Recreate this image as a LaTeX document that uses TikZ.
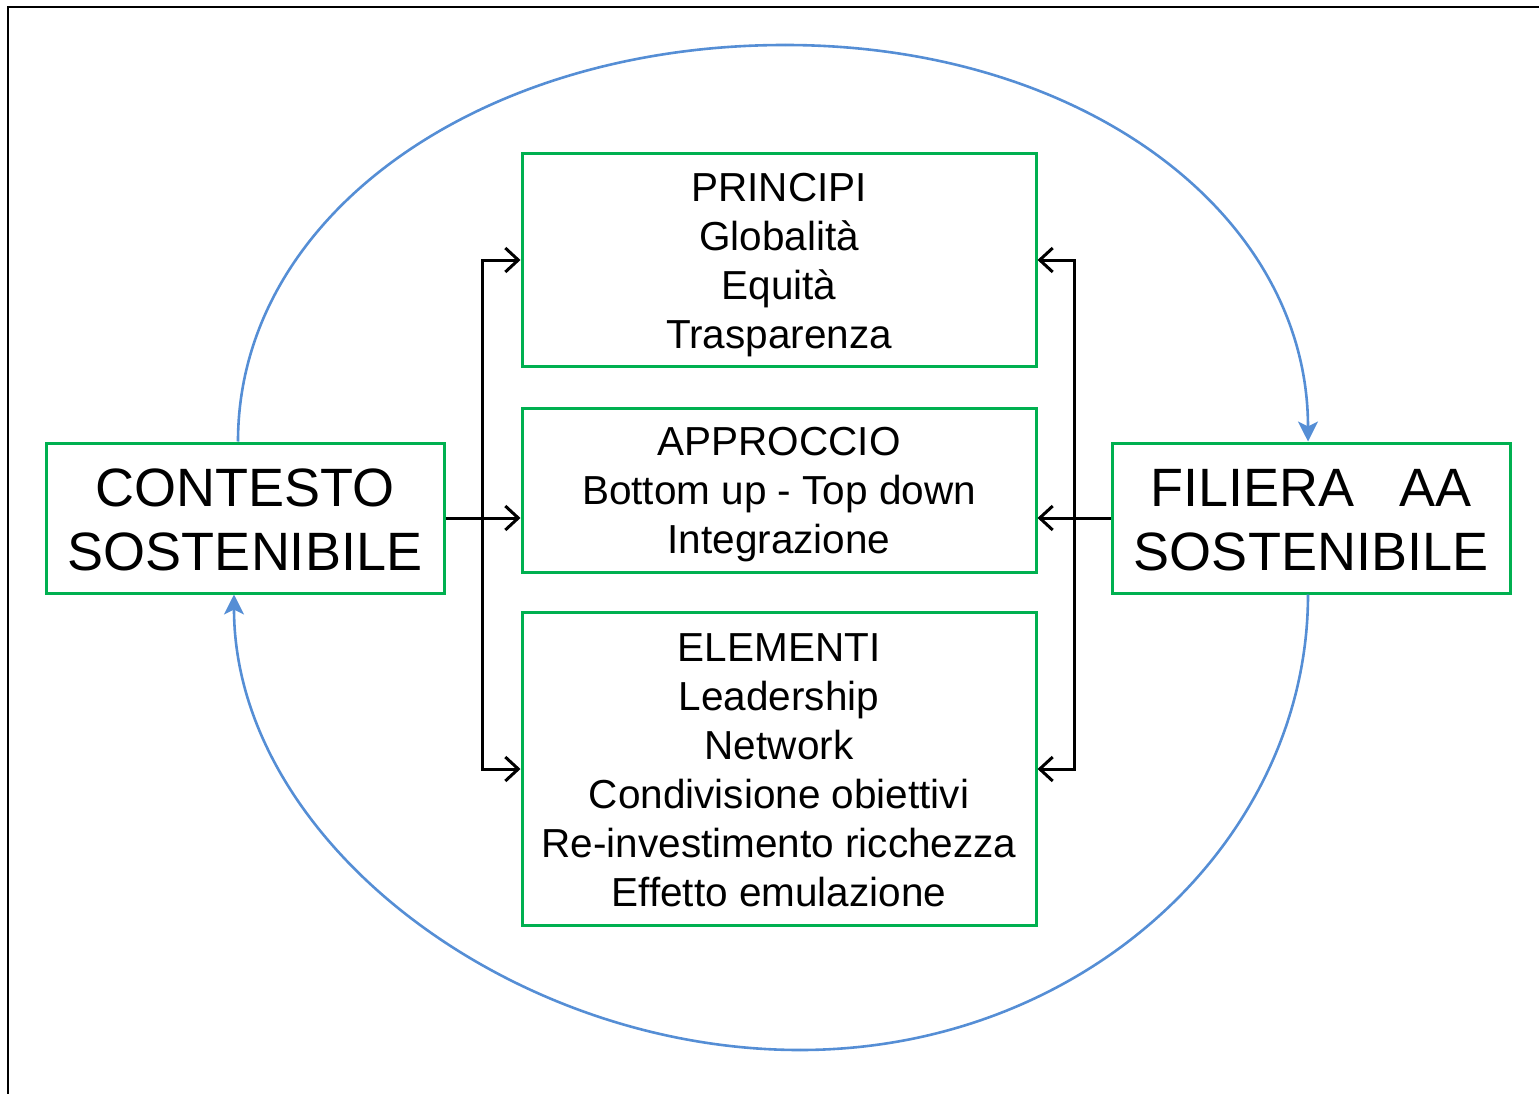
\documentclass[tikz,border=0pt]{standalone}
\usepackage{fontspec}
\setmainfont{Liberation Sans}
\usetikzlibrary{arrows.meta}
\definecolor{boxgreen}{RGB}{0,176,80}
\definecolor{arcblue}{RGB}{85,142,213}
\tikzset{
  gbox/.style={draw=boxgreen, line width=3pt, inner sep=0pt},
  txt/.style={align=center, inner sep=0pt, font=\fontsize{40.5pt}{49pt}\selectfont},
  bigtxt/.style={align=center, inner sep=0pt, font=\fontsize{54pt}{64pt}\selectfont},
  blk/.style={draw=black, line width=3pt, arrows={Straight Barb[length=13pt,width=24pt,line width=3pt]-Straight Barb[length=13pt,width=24pt,line width=3pt]}},
  blkone/.style={draw=black, line width=3pt, -{Straight Barb[length=13pt,width=24pt,line width=3pt]}},
  arc/.style={draw=arcblue, line width=2.6pt, -{Stealth[length=20pt,width=20pt,inset=5pt]}},
  frame/.style={draw=black, line width=2pt}
}
\begin{document}
\begin{tikzpicture}[x=1pt,y=-1pt]
\useasboundingbox (0,0) rectangle (1539,1094);
\draw[frame] (8,1094) -- (8,7) -- (1539,7);

\node[gbox, minimum width=398pt, minimum height=150pt] (ctx) at (245,518) {};
\node[bigtxt] (ctxt) at ([yshift=-2pt]ctx.center) {CONTESTO\\SOSTENIBILE};
\node[gbox, minimum width=398pt, minimum height=150pt] (fil) at (1311,518) {};
\node[bigtxt] (filt) at ([yshift=-2pt]fil.center) {FILIERA\ \ \ AA\\SOSTENIBILE};
\node[gbox, minimum width=514pt, minimum height=213pt] (pri) at (779,260) {};
\node[txt] (prit) at ([yshift=-5pt]pri.center) {PRINCIPI\\Globalità\\Equità\\Trasparenza};
\node[gbox, minimum width=514pt, minimum height=164pt] (app) at (779,490) {};
\node[txt] (appt) at ([yshift=-5pt]app.center) {APPROCCIO\\Bottom up - Top down\\Integrazione};
\node[gbox, minimum width=514pt, minimum height=313pt] (ele) at (779,769) {};
\node[txt] (elet) at ([yshift=-1pt]ele.center) {ELEMENTI\\Leadership\\Network\\Condivisione obiettivi\\Re-investimento ricchezza\\Effetto emulazione};

\coordinate (L) at (482,0);
\coordinate (R) at (1074,0);

\draw[blk] (pri.west) -- (pri.west -| L) -- (ele.west -| L) -- (ele.west);
\draw[blkone] (ctx.east) -- (app.west |- ctx.east);
\draw[blk] (pri.east) -- (pri.east -| R) -- (ele.east -| R) -- (ele.east);
\draw[blkone] (fil.west) -- (app.east |- fil.west);

\coordinate (top) at (785,45);
\coordinate (bot) at (800,1050);
\draw[arc, -] ([xshift=-7pt]ctx.north) .. controls (238,215) and (480,45) .. (top);
\draw[arc] (top) .. controls (1085,45) and (1308,215) .. ([xshift=-3pt]fil.north);
\draw[arc, -] ([xshift=-3pt]fil.south) .. controls (1308,840) and (1085,1050) .. (bot);
\draw[arc] (bot) .. controls (510,1050) and (234,840) .. ([xshift=-11pt]ctx.south);
\end{tikzpicture}
\end{document}
